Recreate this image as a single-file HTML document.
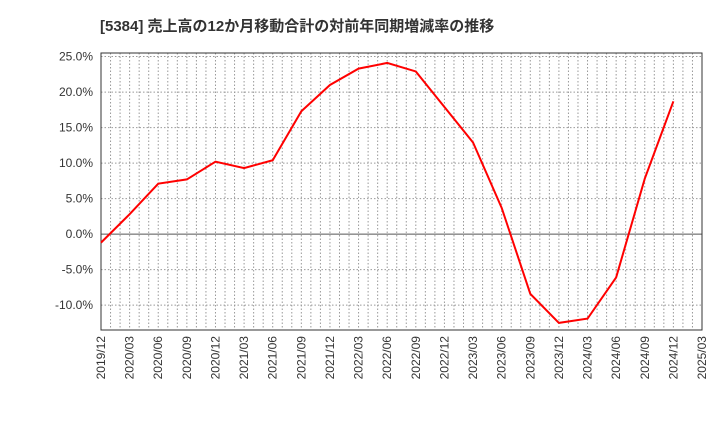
<!DOCTYPE html>
<html><head><meta charset="utf-8"><style>
body{margin:0;background:#fff;}
svg text{font-family:"Liberation Sans","Noto Sans CJK JP",sans-serif;}
</style></head><body>
<svg id="c" width="720" height="440">
<text x="100" y="31" font-size="15" font-weight="bold" fill="#333">[5384]  売上高の12か月移動合計の対前年同期増減率の推移</text>
</svg>
<script>
const categories=["2019/12","2020/03","2020/06","2020/09","2020/12","2021/03","2021/06","2021/09","2021/12","2022/03","2022/06","2022/09","2022/12","2023/03","2023/06","2023/09","2023/12","2024/03","2024/06","2024/09","2024/12"];
const values=[-1.2,2.8,7.1,7.7,10.2,9.3,10.4,17.3,21.0,23.3,24.1,22.9,17.9,12.9,3.7,-8.4,-12.5,-11.9,-6.1,7.8,18.7];
const xLabels=["2019/12","2020/03","2020/06","2020/09","2020/12","2021/03","2021/06","2021/09","2021/12","2022/03","2022/06","2022/09","2022/12","2023/03","2023/06","2023/09","2023/12","2024/03","2024/06","2024/09","2024/12","2025/03"];
const yTicks=[-10,-5,0,5,10,15,20,25];
const L=101,R=702,T=53,B=330,yMin=-13.5,yMax=25.5;
const svg=document.getElementById('c');const NS='http://www.w3.org/2000/svg';
const x=i=>L+(R-L)*i/((xLabels.length-1));
const y=v=>B-(v-yMin)/(yMax-yMin)*(B-T);
function mk(t,a){const e=document.createElementNS(NS,t);for(const k in a)e.setAttribute(k,a[k]);svg.appendChild(e);return e;}
const nM=(xLabels.length-1)*3;
for(let m=1;m<nM;m++){const xx=L+(R-L)*m/nM;const g=mk('line',{x1:xx,x2:xx,y1:T,y2:B,stroke:'#999','stroke-dasharray':'1.5,2','stroke-width':1});

}
yTicks.forEach(v=>{const g=mk('line',{x1:L,x2:R,y1:y(v),y2:y(v),stroke:v===0?'#555':'#999','stroke-dasharray':v===0?'':'1.5,2','stroke-width':1});


const t=mk('text',{x:L-8,y:y(v)+4,'text-anchor':'end','font-size':12,fill:'#333'});t.textContent=v.toFixed(1)+'%';

});
xLabels.forEach((s,i)=>{const t=mk('text',{transform:`translate(${x(i)+4},${B+6}) rotate(-90)`,'text-anchor':'end','font-size':12,fill:'#333'});t.textContent=s;

});
const f=mk('rect',{x:L,y:T,width:R-L,height:B-T,fill:'none',stroke:'#333','stroke-width':1});


const p=mk('polyline',{points:values.map((v,i)=>x(i)+','+y(v)).join(' '),fill:'none',stroke:'#f00','stroke-width':2});


</script>
</body></html>
